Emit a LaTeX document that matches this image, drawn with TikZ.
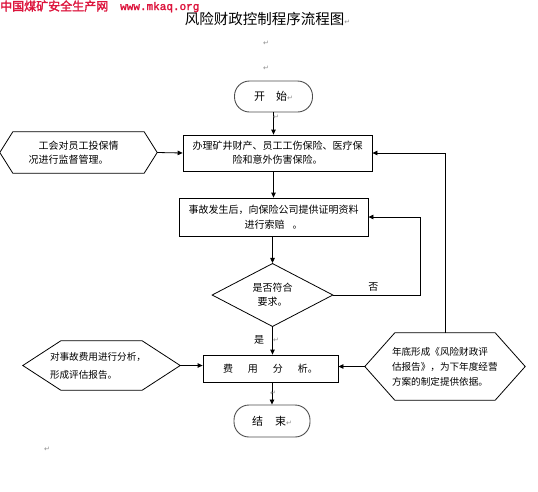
\documentclass[tikz,border=0pt]{standalone}
\usepackage{fontspec}
\setmainfont{Noto Sans CJK SC}[AutoFakeBold=2]
\newfontfamily\symbfont{DejaVu Sans}
\newfontfamily\webfont{Liberation Mono}[AutoFakeBold=2]
\usetikzlibrary{arrows.meta,shapes.geometric}
\usepackage{xcolor}
\definecolor{SiteRed}{HTML}{DC143C}
\definecolor{MarkGray}{HTML}{8C8C8C}
\definecolor{TermGray}{HTML}{4D4D4D}
\newcommand{\retmark}{{\fontsize{7}{7}\symbfont\color{MarkGray}↵}}

\begin{document}
\begin{tikzpicture}[x=1pt, y=-1pt, every node/.style={inner sep=0pt},
   proc/.style={draw, line width=0.8pt, minimum width=189pt, minimum height=37pt,
                text width=180pt, align=center, font=\fontsize{10}{14}\selectfont},
   term/.style={draw=TermGray, line width=0.9pt, rounded corners=15pt,
                minimum width=78pt, minimum height=31pt, font=\fontsize{11}{13}\selectfont},
   dec/.style={draw, diamond, line width=0.8pt, minimum width=121pt, minimum height=62pt,
               align=center, font=\fontsize{10}{14}\selectfont},
   hexa/.style={align=left, font=\fontsize{9.6}{15}\selectfont},
   retnode/.style={font=\fontsize{6}{6}\selectfont},
   arr/.style={-{Triangle[length=5pt,width=4.5pt]}, line width=0.8pt}]
  \useasboundingbox (0,0) rectangle (538,491);
  % Kopfzeile und Titel
  \node[anchor=west, text=SiteRed, font=\fontsize{12}{12}\selectfont\bfseries] (site) at (0,6) {中国煤矿安全生产网};
  \node[anchor=base west, text=SiteRed, font=\fontsize{11}{11}\webfont\bfseries] (web) at (120,10) {www.mkaq.org};
  \node[font=\fontsize{14.5}{16}\selectfont] (title) at (267.5,19) {风险财政控制程序流程图\retmark};
  \node (leer1) at (266,43) {\retmark};
  \node (leer2) at (266,68) {\retmark};

  \node[term] (kaishi) at (273.5,96.5) {开\hspace{11pt}始\retmark};
  \node[proc, minimum height=36pt] (banli) at (277.5,153) {办理矿井财产、员工工伤保险、医疗保\\险和意外伤害保险。};
  \node[proc, minimum height=38pt, font=\fontsize{10}{15}\selectfont] (suopei) at (273.5,217) {事故发生后，向保险公司提供证明资料\\进行索赔\hspace{8pt}。};
  \node[dec] (panduan) at (272.5,295) {是否符合\\要求。};
  \node[proc, minimum width=135pt, minimum height=27pt, text width=125pt] (feiyong) at (270.5,368.5) {费\hspace{15pt}用\hspace{15pt}分\hspace{15pt}析。};
  \node[term, minimum width=76pt, minimum height=32pt] (jieshu) at (272,421) {结\hspace{12pt}束\retmark};

  \node[hexa, minimum width=157pt, minimum height=41pt, text width=100pt,
        font=\fontsize{10}{14}\selectfont] (gonghui) at (78.5,152.5) {\hspace*{10pt}工会对员工投保情\\况进行监督管理。};
  \node[hexa, minimum width=157pt, minimum height=49pt, text width=103pt,
        font=\fontsize{9.6}{18}\selectfont] (fenxi) at (101.5,365.5) {对事故费用进行分析，\\形成评估报告。};
  \node[hexa, minimum width=160pt, minimum height=67pt, text width=106pt] (niandi) at (445,366.5) {年底形成《风险财政评\\估报告》，为下年度经营\\方案的制定提供依据。};
  \foreach \h/\c in {gonghui/13, fenxi/38, niandi/30}
    \draw[line width=0.8pt] (\h.west) -- ([xshift=\c pt]\h.north west) -- ([xshift=-\c pt]\h.north east)
      -- (\h.east) -- ([xshift=-\c pt]\h.south east) -- ([xshift=\c pt]\h.south west) -- cycle;

  \draw[arr] (kaishi.south) -- (kaishi.south |- banli.north);
  \draw[arr] (banli.south -| kaishi.south) -- (kaishi.south |- suopei.north);
  \draw[arr] (suopei.south -| panduan.north) -- (panduan.north);
  \draw[arr] (panduan.south) -- (panduan.south |- feiyong.north)
    node[pos=0.45, left=8pt, font=\fontsize{10}{10}\selectfont] {是};
  \draw[arr] (panduan.east) -- ++(87,0) node[pos=0.46, above=3pt, font=\fontsize{10}{10}\selectfont] {否}
    |- (suopei.east);
  \draw[arr] (feiyong.south -| jieshu.north) -- (jieshu.north);
  \draw[arr] (gonghui.east) -- (banli.west);
  \draw[arr] (fenxi.east) -- (fenxi.east -| feiyong.west);
  \draw[arr] (niandi.west) -- (niandi.west -| feiyong.east);
  \draw[arr] (niandi.north) |- (banli.east);

  \node[retnode] (ret1) at (276,117) {\retmark};
  \node[retnode] (ret2) at (276,340) {\retmark};
  \node[retnode] (ret3) at (273,393) {\retmark};
  \node (ret4) at (47,449) {\retmark};
\end{tikzpicture}
\end{document}
